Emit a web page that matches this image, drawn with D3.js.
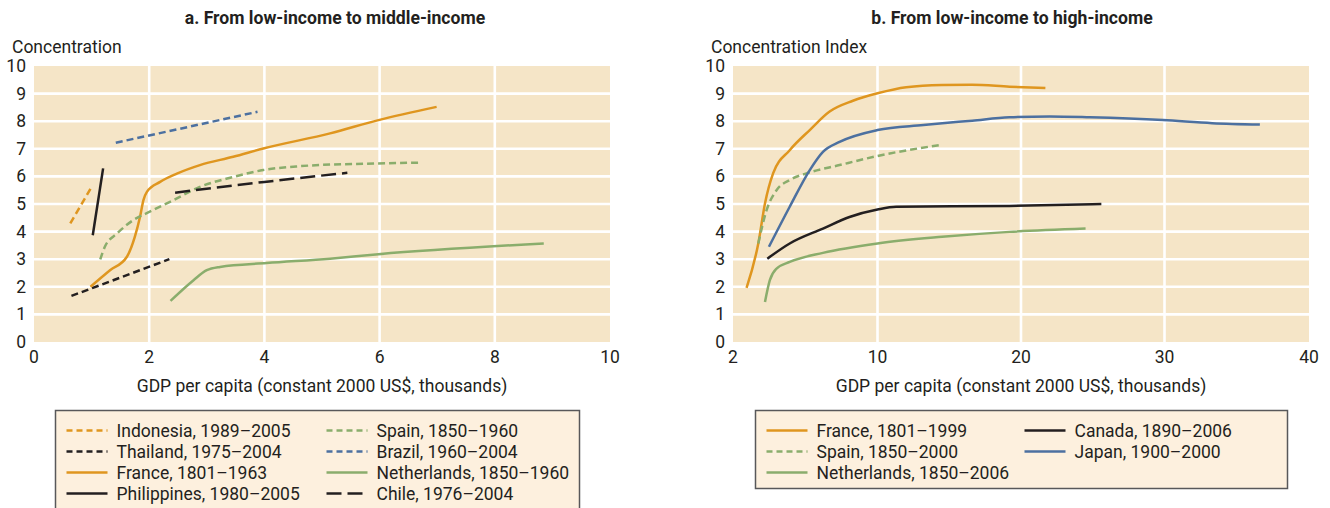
<!DOCTYPE html>
<html>
<head>
<meta charset="utf-8">
<script src="https://cdn.jsdelivr.net/npm/d3@7"></script>
<style>
  html, body { margin: 0; padding: 0; background: #fff; }
  svg { display: block; }
  text { font-family: Roboto, "Liberation Sans", sans-serif; fill: #231f20; }
</style>
</head>
<body>
<svg id="chart" width="1330" height="508"></svg>
<script>
// ---- Panel a: low-income to middle-income (GDP per capita, thousands; concentration) ----
const indonesia   = [[0.63, 4.3], [0.98, 5.55]];
const thailand    = [[0.65, 1.67], [2.35, 3.0]];
const franceA     = [[0.98, 2.0], [1.32, 2.6], [1.61, 3.08], [1.75, 3.81], [1.84, 4.53], [1.90, 5.14],
                     [1.96, 5.44], [2.19, 5.8], [2.48, 6.1], [2.88, 6.41], [3.46, 6.71], [3.98, 7.01],
                     [5.14, 7.56], [5.98, 8.04], [6.99, 8.52]];
const philippines = [[1.02, 3.87], [1.20, 6.29]];
const spainA      = [[1.15, 2.99], [1.23, 3.45], [1.44, 3.93], [1.72, 4.41], [2.01, 4.72], [2.42, 5.14],
                     [2.88, 5.62], [3.46, 5.98], [3.98, 6.23], [4.62, 6.37], [5.14, 6.43], [5.54, 6.45],
                     [6.73, 6.5]];
const brazil      = [[1.42, 7.22], [3.88, 8.34]];
const netherlandsA = [[2.37, 1.49], [2.77, 2.24], [3.0, 2.6], [3.23, 2.72], [4.04, 2.86], [5.14, 3.02],
                      [5.98, 3.18], [8.85, 3.57]];
const chile       = [[2.45, 5.41], [4.0, 5.8], [5.44, 6.13]];

// ---- Panel b: low-income to high-income ----
const franceB     = [[2.75, 1.96], [3.40, 3.57], [3.77, 5.02], [4.22, 6.11], [5.14, 6.95], [6.25, 7.68],
                     [7.35, 8.35], [8.64, 8.74], [10, 9.01], [12.0, 9.23], [14.5, 9.31], [16.6, 9.32],
                     [19.2, 9.25], [21.7, 9.2]];
const spainB      = [[3.40, 3.57], [3.86, 4.78], [4.41, 5.5], [5.14, 5.87], [6.07, 6.11], [7.9, 6.41],
                     [10, 6.74], [14.5, 7.15]];
const japan       = [[3.99, 3.45], [5.14, 4.9], [6.25, 6.23], [6.98, 6.89], [7.9, 7.25], [10, 7.68],
                     [13.2, 7.86], [16.6, 8.02], [19.2, 8.14], [22.0, 8.17], [24.8, 8.14], [29.9, 8.04],
                     [33.3, 7.93], [36.6, 7.88]];
const canada      = [[3.9, 3.02], [5.14, 3.57], [6.98, 4.11], [8.45, 4.53], [10, 4.8], [11.3, 4.9],
                     [19.2, 4.93], [25.6, 5.0]];
const netherlandsB = [[3.77, 1.45], [4.04, 2.24], [4.41, 2.66], [5.14, 2.9], [6.98, 3.23], [10, 3.57],
                      [14.5, 3.81], [19.2, 3.99], [24.5, 4.11]];

// Axis ticks
const yTicks  = [0, 1, 2, 3, 4, 5, 6, 7, 8, 9, 10];
const xTicksA = [0, 2, 4, 6, 8, 10];
const xTicksB = [2, 10, 20, 30, 40];

const C = { orange: "#df961f", black: "#231f20", green: "#8aad6c", blue: "#4c70a0" };
const DASH = { short: "7,4", long: "15,6", solid: null };

const seriesA = [
  { name: "Indonesia, 1989–2005",   data: indonesia,    color: C.orange, dash: "short" },
  { name: "Thailand, 1975–2004",    data: thailand,     color: C.black,  dash: "short" },
  { name: "France, 1801–1963",      data: franceA,      color: C.orange, dash: "solid" },
  { name: "Philippines, 1980–2005", data: philippines,  color: C.black,  dash: "solid" },
  { name: "Spain, 1850–1960",       data: spainA,       color: C.green,  dash: "short" },
  { name: "Brazil, 1960–2004",      data: brazil,       color: C.blue,   dash: "short" },
  { name: "Netherlands, 1850–1960", data: netherlandsA, color: C.green,  dash: "solid" },
  { name: "Chile, 1976–2004",       data: chile,        color: C.black,  dash: "long" }
];
const seriesB = [
  { name: "France, 1801–1999",      data: franceB,      color: C.orange, dash: "solid" },
  { name: "Spain, 1850–2000",       data: spainB,       color: C.green,  dash: "short" },
  { name: "Netherlands, 1850–2006", data: netherlandsB, color: C.green,  dash: "solid" },
  { name: "Canada, 1890–2006",      data: canada,       color: C.black,  dash: "solid" },
  { name: "Japan, 1900–2000",       data: japan,        color: C.blue,   dash: "solid" }
];

const svg = d3.select("#chart");
const plotTop = 66, plotBottom = 342;
const FS = 17.5;

function panel(opt) {
  const g = svg.append("g");
  const x = d3.scaleLinear().domain(opt.xDomain).range(opt.xRange);
  const y = d3.scaleLinear().domain([0, 10]).range([plotBottom, plotTop]);
  const [L, R] = [opt.xRange[0], opt.xRange[opt.xRange.length - 1]];

  // title
  g.append("text").attr("x", opt.titleX).attr("y", 24).attr("text-anchor", "middle")
    .attr("font-size", 17.6).attr("font-weight", "bold").text(opt.title);
  // y-axis title
  g.append("text").attr("x", opt.yTitleX).attr("y", 53).attr("font-size", FS).text(opt.yTitle);

  // plot background
  g.append("rect").attr("x", L).attr("y", plotTop).attr("width", R - L).attr("height", plotBottom - plotTop)
    .attr("fill", "#f5e5c7");

  // grid
  g.append("g").selectAll("line").data(yTicks.filter(d => d > 0 && d < 10)).join("line")
    .attr("x1", L).attr("x2", R).attr("y1", d => y(d)).attr("y2", d => y(d))
    .attr("stroke", "#fff").attr("stroke-width", 2.6);
  g.append("g").selectAll("line").data(opt.xTicks.slice(1, -1)).join("line")
    .attr("x1", d => x(d)).attr("x2", d => x(d)).attr("y1", plotTop).attr("y2", plotBottom)
    .attr("stroke", "#fff").attr("stroke-width", 2.6);

  // y tick labels
  g.append("g").selectAll("text").data(yTicks).join("text")
    .attr("x", L - 8).attr("y", d => y(d) + 6).attr("text-anchor", "end")
    .attr("font-size", FS).text(d => d);
  // x tick labels
  g.append("g").selectAll("text").data(opt.xTicks).join("text")
    .attr("x", d => x(d)).attr("y", plotBottom + 21).attr("text-anchor", "middle")
    .attr("font-size", FS).text(d => d);
  // x-axis title
  g.append("text").attr("x", (L + R) / 2).attr("y", plotBottom + 50).attr("text-anchor", "middle")
    .attr("font-size", FS).text("GDP per capita (constant 2000 US$, thousands)");

  // series
  const line = d3.line().x(d => x(d[0])).y(d => y(d[1])).curve(d3.curveMonotoneX);
  g.append("g").selectAll("path").data(opt.series).join("path")
    .attr("d", s => line(s.data)).attr("fill", "none")
    .attr("stroke", s => s.color).attr("stroke-width", 2.5)
    .attr("stroke-dasharray", s => DASH[s.dash]);

  // legend
  const lg = opt.legend;
  g.append("rect").attr("x", lg.x).attr("y", lg.y).attr("width", lg.w).attr("height", lg.h)
    .attr("fill", "#fdf0de").attr("stroke", "#58585a").attr("stroke-width", 1.5);
  const items = g.append("g").selectAll("g").data(opt.series).join("g")
    .attr("transform", (s, i) => {
      const col = Math.floor(i / lg.rows), row = i % lg.rows;
      return `translate(${lg.x + 11 + col * lg.colW},${lg.y + 20 + row * 21})`;
    });
  items.append("line").attr("x1", 0).attr("x2", 41).attr("y1", 0).attr("y2", 0)
    .attr("stroke", s => s.color).attr("stroke-width", 2.5)
    .attr("stroke-dasharray", s => s.dash === "short" ? "6,4" : DASH[s.dash]);
  items.append("text").attr("x", 50).attr("y", 6).attr("font-size", FS).text(s => s.name);
}

panel({
  title: "a. From low-income to middle-income", titleX: 335,
  yTitle: "Concentration", yTitleX: 12,
  xDomain: [0, 10], xRange: [34, 610], xTicks: xTicksA,
  series: seriesA,
  legend: { x: 55.5, y: 410.5, w: 524, h: 110, rows: 4, colW: 260 }
});
panel({
  title: "b. From low-income to high-income", titleX: 1012,
  yTitle: "Concentration Index", yTitleX: 711,
  xDomain: [2, 10, 20, 30, 40], xRange: [733, 877.5, 1021, 1164.5, 1309], xTicks: xTicksB,
  series: seriesB,
  legend: { x: 755.5, y: 410.5, w: 532, h: 78, rows: 3, colW: 258 }
});
</script>
</body>
</html>
